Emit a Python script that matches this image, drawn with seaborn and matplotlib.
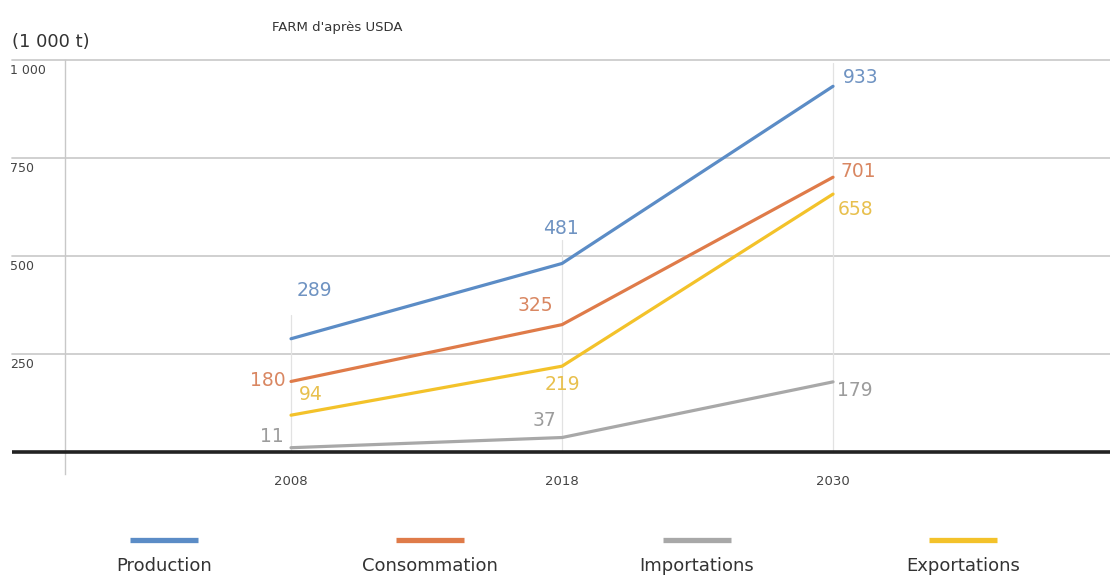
import numpy as np
import pandas as pd
import matplotlib
matplotlib.use("Agg")
import matplotlib.pyplot as plt
from matplotlib.lines import Line2D
import seaborn as sns

# Données (milliers de tonnes)
years = ["2008", "2018", "2030"]
series = ["Production", "Consommation", "Importations", "Exportations"]
production = [289, 481, 933]
consommation = [180, 325, 701]
importations = [11, 37, 179]
exportations = [94, 219, 658]
y_ticks = [250, 500, 750, 1000]
y_tick_labels = ["250", "500", "750", "1 000"]

values = {
    "Production": production,
    "Consommation": consommation,
    "Importations": importations,
    "Exportations": exportations,
}

line_colors = {
    "Production": "#5b8cc6",
    "Consommation": "#df7b49",
    "Importations": "#a8a8a8",
    "Exportations": "#f3c22a",
}
label_colors = {
    "Production": "#6f93c2",
    "Consommation": "#d98762",
    "Importations": "#9c9c9c",
    "Exportations": "#e8c04e",
}
# décalage des étiquettes de valeur (points)
label_offsets = {
    "Production": [(17, 35), (-1, 25), (20, 6)],
    "Consommation": [(-17, 1), (-19, 14), (18, 4)],
    "Importations": [(-14, 8), (-13, 12), (16, -6)],
    "Exportations": [(14, 15), (0, -13), (16, -11)],
}

rows = []
for name in series:
    for i, v in enumerate(values[name]):
        rows.append({"pos": i, "annee": years[i], "serie": name, "valeur": v})
df = pd.DataFrame(rows)

sns.set_style("white")
plt.rcParams["font.family"] = ["DejaVu Sans"]

fig = plt.figure(figsize=(11.10, 5.76), dpi=100)
ax = fig.add_axes([65 / 1110, 0.1778, 1 - 65 / 1110, 0.718])

# repères verticaux discrets sous les étiquettes
for i in range(len(years)):
    top = max(values[s][i] for s in series)
    ax.plot([i, i], [0, top + 60], color="#e2e2e2", lw=0.9, zorder=1)

# quadrillage horizontal et ligne de base
trans = ax.get_yaxis_transform()
gx0 = (12 - 65) / 1045
for t in y_ticks:
    ax.plot([gx0, 1], [t, t], transform=trans, color="#cdcdcd", lw=1.3,
            clip_on=False, zorder=0)
ax.plot([gx0, 1], [0, 0], transform=trans, color="#222222", lw=2.6,
        clip_on=False, zorder=5, solid_capstyle="butt")

sns.lineplot(data=df, x="pos", y="valeur", hue="serie", hue_order=series,
             palette=line_colors, linewidth=2.3, legend=False, ax=ax,
             zorder=3)

for name in series:
    for i, v in enumerate(values[name]):
        dx, dy = label_offsets[name][i]
        ax.annotate(str(v), xy=(i, v), xytext=(dx, dy),
                    textcoords="offset points", ha="center", va="center",
                    fontsize=13.5, color=label_colors[name], zorder=6)

ax.set_xlim(-0.834, 3.022)
ax.set_ylim(-55, 1000)
ax.set_xticks(range(len(years)))
ax.set_xticklabels(years)
ax.tick_params(axis="x", length=0, pad=1, labelsize=9.5, labelcolor="#444444")
ax.set_yticks([])
ax.set_xlabel("")
ax.set_ylabel("")

for t, lab in zip(y_ticks, y_tick_labels):
    ax.annotate(lab, xy=((10 - 65) / 1045, t), xycoords=trans,
                xytext=(0, -3), textcoords="offset points",
                ha="left", va="top", fontsize=9, color="#444444",
                annotation_clip=False)

for side in ["top", "right", "bottom"]:
    ax.spines[side].set_visible(False)
ax.spines["left"].set_color("#c8c8c8")
ax.spines["left"].set_linewidth(1.0)

fig.text(12 / 1110, 1 - 42 / 576, "(1 000 t)", fontsize=13, color="#333333",
         ha="left", va="center")
fig.text(272 / 1110, 1 - 27 / 576, "FARM d'après USDA", fontsize=9.5,
         color="#333333", ha="left", va="center")

# légende
W, H = 1110, 576
for k, name in enumerate(series):
    cx = 164 + 266.3 * k
    fig.add_artist(Line2D([(cx - 34) / W, (cx + 34) / W],
                          [1 - 539.5 / H, 1 - 539.5 / H],
                          color=line_colors[name], lw=3.8,
                          solid_capstyle="butt"))
    fig.text(cx / W, 1 - 566 / H, name, fontsize=13, color="#333333",
             ha="center", va="center")

fig.savefig("out.png", dpi=100)
